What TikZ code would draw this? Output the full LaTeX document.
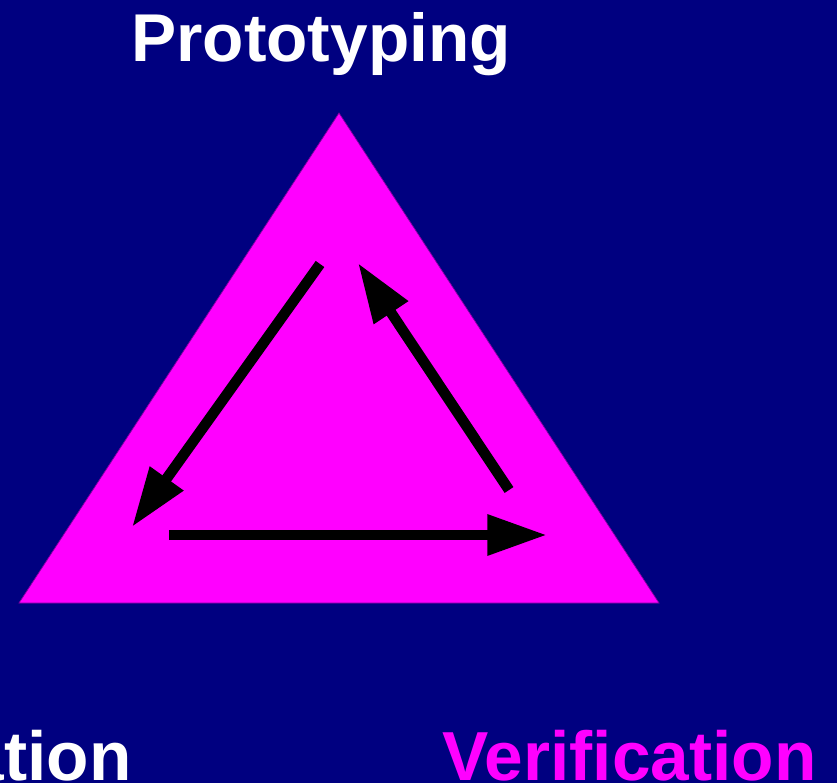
\documentclass[tikz,border=0pt]{standalone}
\usepackage{fontspec}
\setmainfont{Liberation Sans}
\usetikzlibrary{arrows.meta}

\definecolor{navy}{RGB}{0,0,128}
\definecolor{tri}{RGB}{255,0,255}
\definecolor{triedge}{RGB}{128,0,160}

\tikzset{
  label/.style={font=\fontsize{39.5}{42}\selectfont\bfseries, inner sep=0pt},
  cyclearrow/.style={line width=6pt, line cap=butt, -{Triangle[length=34pt,width=22pt]}}
}

\begin{document}
\begin{tikzpicture}[x=0.02cm, y=-0.02cm]
    % 参数设置
    \def\W{837} % 画面宽度
    \def\H{783} % 画面高度

    % 背景
    \fill[navy] (0,0) rectangle (\W,\H);
    \useasboundingbox (0,0) rectangle (\W,\H);

    % 三角形顶点
    \coordinate (top) at (339,113);
    \coordinate (bl) at (19,603);
    \coordinate (br) at (659,603);
    \fill[tri, draw=triedge, line width=0.4pt] (top) -- (bl) -- (br) -- cycle;

    % 循环箭头的端点
    \coordinate (a1) at (320,264);
    \coordinate (a2) at (132,527);
    \coordinate (b1) at (169,535);
    \coordinate (b2) at (547,535);
    \coordinate (c1) at (509,490);
    \coordinate (c2) at (358,263);

    \draw[cyclearrow] (a1) -- (a2);
    \draw[cyclearrow] (b1) -- (b2);
    \draw[cyclearrow] (c1) -- (c2);

    % 三个角的标注
    \node[label, white, anchor=base west, font=\fontsize{38.5}{40}\selectfont\bfseries] (proto) at (131,62) {Prototyping};
    \node[label, white, anchor=base east] (simu) at (132,780) {Simulation};
    \node[label, tri, anchor=base west] (verif) at (442,780) {Verification};

  \end{tikzpicture}
\end{document}
